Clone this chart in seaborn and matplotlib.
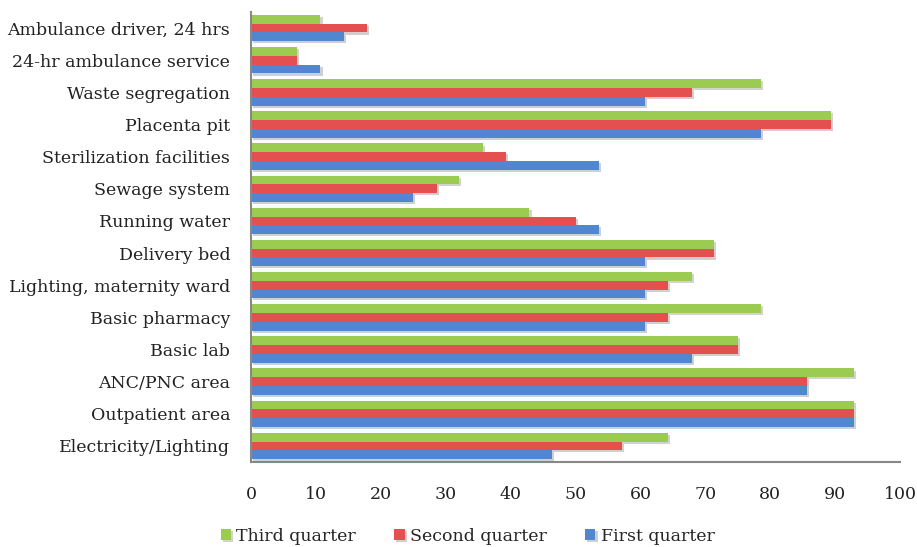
import matplotlib
matplotlib.use("Agg")
import matplotlib.pyplot as plt
import matplotlib.patheffects as pe
import seaborn as sns
import pandas as pd

categories = [
    "Ambulance driver, 24 hrs",
    "24-hr ambulance service",
    "Waste segregation",
    "Placenta pit",
    "Sterilization facilities",
    "Sewage system",
    "Running water",
    "Delivery bed",
    "Lighting, maternity ward",
    "Basic pharmacy",
    "Basic lab",
    "ANC/PNC area",
    "Outpatient area",
    "Electricity/Lighting",
]
third_quarter = [10.7, 7.1, 78.6, 89.3, 35.7, 32.1, 42.9, 71.4, 67.9, 78.6, 75.0, 92.9, 92.9, 64.3]
second_quarter = [17.9, 7.1, 67.9, 89.3, 39.3, 28.6, 50.0, 71.4, 64.3, 64.3, 75.0, 85.7, 92.9, 57.1]
first_quarter = [14.3, 10.7, 60.7, 78.6, 53.6, 25.0, 53.6, 60.7, 60.7, 60.7, 67.9, 85.7, 92.9, 46.4]
series_names = ["Third quarter", "Second quarter", "First quarter"]
x_ticks = [0, 10, 20, 30, 40, 50, 60, 70, 80, 90, 100]

rows = []
for name, vals in zip(series_names, [third_quarter, second_quarter, first_quarter]):
    for c, v in zip(categories, vals):
        rows.append({"Category": c, "Value": v, "Series": name})
df = pd.DataFrame(rows)

sns.set_style("white")
plt.rcParams["font.family"] = ["DejaVu Serif"]

palette = {"Third quarter": "#9CCB52", "Second quarter": "#E3504F", "First quarter": "#5087CF"}

fig = plt.figure(figsize=(9.17, 5.47), dpi=100)
ax = fig.add_axes([0.2737, 0.1554, 0.7078, 0.8226])

sns.barplot(data=df, y="Category", x="Value", hue="Series", order=categories,
            hue_order=series_names, palette=palette, orient="h", width=0.82,
            saturation=1, ax=ax, edgecolor="none", linewidth=0, legend=True)

for p in ax.patches:
    p.set_path_effects([pe.SimplePatchShadow(offset=(1.5, -1.5), alpha=0.22), pe.Normal()])

ax.set_xlim(0, 100)
ax.set_ylim(len(categories) - 0.5, -0.5)
ax.set_xticks(x_ticks)
ax.set_xticklabels([str(t) for t in x_ticks])
ax.set_xlabel("")
ax.set_ylabel("")
ax.tick_params(axis="both", length=0, labelsize=12.5, colors="#222222")
ax.tick_params(axis="x", pad=17)
ax.tick_params(axis="y", pad=15)
for s in ["top", "right"]:
    ax.spines[s].set_visible(False)
for s in ["left", "bottom"]:
    ax.spines[s].set_color("#888888")
    ax.spines[s].set_linewidth(1.5)

handles, labels = ax.get_legend_handles_labels()
ax.get_legend().remove()
fig.legend(handles, labels, loc="center", bbox_to_anchor=(0.51, 0.02),
           ncol=3, frameon=False, fontsize=12.5, handlelength=0.6, handleheight=0.6,
           handletextpad=0.3, columnspacing=2.2)

fig.savefig("out.png", dpi=100)
